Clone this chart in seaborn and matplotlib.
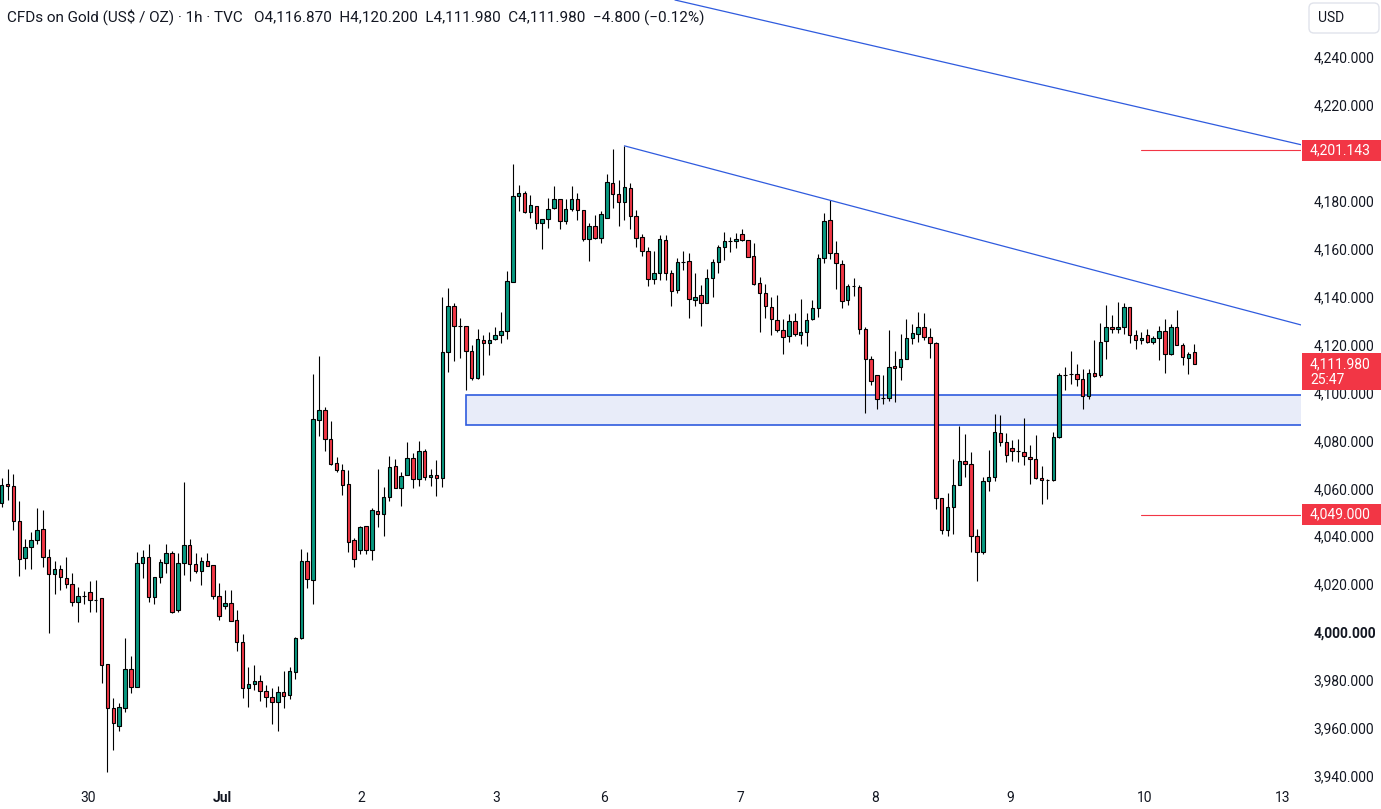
import numpy as np
import pandas as pd
import matplotlib.pyplot as plt
import matplotlib.transforms as mtransforms
from matplotlib.patches import Rectangle, FancyBboxPatch
import seaborn as sns

# hourly OHLC, XAUUSD (TVC), 30 Jun -> 10 Jul
opens = [4053.9, 4061.8, 4061.0, 4046.4, 4030.9, 4035.5, 4038.4, 4043.0, 4031.4, 4024.3,
         4026.3, 4022.6, 4020.1, 4012.6, 4015.1, 4016.7, 4013.4, 4014.2, 3986.7, 3968.3,
         3960.8, 3968.3, 3984.6, 3977.1, 4028.8, 4031.4, 4014.7, 4023.0, 4028.8, 4033.0,
         4009.2, 4028.8, 4036.4, 4028.4, 4025.5, 4029.7, 4028.0, 4015.1, 4010.9, 4012.1,
         4005.0, 3995.9, 3976.7, 3978.3, 3979.6, 3975.4, 3972.9, 3970.8, 3975.0, 3973.7,
         3983.3, 3997.5, 4029.7, 4021.7, 4088.5, 4092.7, 4080.6, 4070.6, 4067.7, 4061.8,
         4038.4, 4034.3, 4044.3, 4034.3, 4050.6, 4049.3, 4056.4, 4069.3, 4060.2, 4065.6,
         4072.7, 4063.9, 4075.6, 4064.7, 4065.6, 4064.3, 4116.9, 4136.1, 4127.8, 4127.8,
         4117.4, 4106.1, 4121.9, 4120.7, 4122.4, 4124.0, 4125.7, 4146.2, 4182.1, 4183.3,
         4175.4, 4177.9, 4170.8, 4172.5, 4177.1, 4180.8, 4171.6, 4176.6, 4180.8, 4176.2,
         4164.1, 4169.5, 4164.5, 4172.9, 4187.5, 4182.9, 4179.6, 4185.4, 4173.7, 4165.0,
         4159.1, 4147.4, 4149.9, 4163.7, 4149.9, 4142.8, 4154.5, 4154.9, 4138.6, 4140.7,
         4137.4, 4147.8, 4154.5, 4160.8, 4163.3, 4163.3, 4166.2, 4163.7, 4157.0, 4145.7,
         4141.6, 4135.7, 4130.3, 4126.1, 4123.6, 4129.9, 4124.0, 4125.3, 4130.7, 4135.3,
         4156.2, 4172.0, 4158.3, 4153.7, 4138.6, 4144.5, 4144.1, 4126.5, 4114.0, 4107.3,
         4097.7, 4097.7, 4111.1, 4110.7, 4114.0, 4122.8, 4124.5, 4127.4, 4123.2, 4120.7,
         4056.0, 4042.6, 4052.2, 4061.4, 4071.4, 4070.2, 4040.1, 4033.4, 4063.1, 4064.7,
         4083.1, 4079.4, 4076.9, 4075.6, 4075.2, 4073.1, 4072.3, 4064.3, 4063.5, 4063.5,
         4081.5, 4107.3, 4107.8, 4107.8, 4105.7, 4098.6, 4108.2, 4107.3, 4121.5, 4127.4,
         4126.5, 4127.4, 4135.7, 4124.0, 4121.9, 4124.0, 4121.1, 4122.8, 4125.7, 4116.1,
         4127.4, 4119.9, 4114.4, 4116.87]
highs = [4064.3, 4068.1, 4066.0, 4054.7, 4038.9, 4041.8, 4051.8, 4051.0, 4034.7, 4029.7,
         4028.0, 4031.4, 4024.7, 4018.8, 4017.2, 4021.3, 4021.7, 4014.2, 3986.7, 3972.5,
         3970.4, 3997.5, 3990.0, 4033.4, 4034.3, 4036.8, 4023.0, 4030.5, 4036.8, 4033.9,
         4033.0, 4062.7, 4038.9, 4033.0, 4031.4, 4033.0, 4028.0, 4020.5, 4017.6, 4017.6,
         4009.2, 3999.2, 3985.4, 3986.3, 3982.1, 3977.9, 3976.7, 3977.5, 3983.8, 3985.4,
         3998.0, 4034.7, 4033.4, 4107.8, 4115.3, 4094.0, 4088.1, 4073.1, 4070.2, 4067.7,
         4039.3, 4044.3, 4044.3, 4051.8, 4068.1, 4060.6, 4073.5, 4072.3, 4066.8, 4079.4,
         4074.8, 4079.8, 4076.4, 4068.1, 4071.8, 4139.9, 4143.7, 4137.4, 4131.1, 4127.8,
         4119.9, 4126.5, 4124.0, 4125.3, 4127.4, 4133.6, 4150.8, 4195.4, 4186.7, 4184.2,
         4182.5, 4177.9, 4172.5, 4181.2, 4186.2, 4180.8, 4180.8, 4186.2, 4183.3, 4176.2,
         4170.8, 4174.1, 4175.8, 4191.3, 4201.7, 4188.7, 4203.0, 4187.5, 4176.2, 4166.2,
         4160.8, 4159.1, 4165.8, 4165.8, 4151.2, 4156.2, 4159.1, 4158.3, 4149.9, 4144.9,
         4151.6, 4155.8, 4161.6, 4167.0, 4165.0, 4166.6, 4168.3, 4163.7, 4162.4, 4148.3,
         4145.3, 4139.9, 4140.7, 4130.7, 4132.8, 4133.2, 4139.1, 4133.2, 4138.6, 4157.9,
         4175.0, 4180.4, 4163.3, 4155.3, 4145.3, 4147.8, 4144.9, 4127.4, 4115.3, 4107.3,
         4107.3, 4126.1, 4117.4, 4124.5, 4130.7, 4128.6, 4133.6, 4133.2, 4127.0, 4121.1,
         4056.0, 4058.1, 4072.3, 4086.0, 4082.7, 4075.2, 4043.0, 4064.7, 4076.0, 4091.1,
         4090.6, 4083.1, 4080.2, 4080.6, 4089.4, 4078.1, 4082.3, 4069.3, 4063.9, 4083.5,
         4108.2, 4110.7, 4117.4, 4111.9, 4109.8, 4109.8, 4121.9, 4129.0, 4136.6, 4132.4,
         4137.8, 4137.4, 4135.7, 4126.1, 4125.3, 4126.5, 4123.6, 4127.8, 4130.7, 4128.6,
         4134.5, 4120.7, 4116.9, 4120.2]
lows = [4052.2, 4055.2, 4042.6, 4023.4, 4026.3, 4026.3, 4036.8, 4027.2, 3999.6, 4015.9,
        4017.6, 4018.4, 4010.9, 4004.2, 4011.7, 4008.4, 4008.4, 3978.7, 3941.6, 3950.8,
        3958.7, 3966.6, 3974.6, 3977.1, 4022.6, 4012.6, 4011.7, 4020.5, 4024.7, 4008.0,
        4008.4, 4023.8, 4021.3, 4024.7, 4019.7, 4027.6, 4013.8, 4005.0, 4009.6, 4004.6,
        3992.1, 3972.5, 3968.7, 3975.8, 3971.2, 3968.7, 3961.6, 3958.7, 3968.3, 3972.1,
        3980.4, 3997.1, 4018.4, 4011.7, 4081.9, 4075.6, 4069.8, 4066.8, 4057.2, 4033.4,
        4027.2, 4032.6, 4032.6, 4030.1, 4043.9, 4040.1, 4054.7, 4060.2, 4052.6, 4065.6,
        4060.2, 4061.0, 4063.5, 4061.0, 4056.8, 4060.6, 4108.6, 4113.2, 4114.4, 4101.1,
        4105.2, 4105.7, 4107.3, 4115.7, 4121.9, 4120.7, 4122.4, 4146.2, 4175.8, 4175.0,
        4172.9, 4168.3, 4159.9, 4168.7, 4176.6, 4168.3, 4170.4, 4175.8, 4172.0, 4163.3,
        4154.9, 4164.1, 4162.4, 4172.9, 4177.1, 4169.5, 4172.0, 4168.3, 4160.8, 4157.0,
        4144.5, 4145.3, 4147.0, 4147.0, 4136.1, 4141.6, 4151.2, 4131.1, 4136.1, 4127.8,
        4137.4, 4139.9, 4149.9, 4155.3, 4158.7, 4160.4, 4163.3, 4156.6, 4144.9, 4125.3,
        4131.1, 4124.0, 4125.3, 4116.1, 4121.1, 4123.6, 4120.3, 4119.4, 4130.3, 4131.6,
        4154.1, 4155.8, 4143.2, 4135.3, 4136.6, 4140.3, 4124.5, 4091.5, 4103.2, 4093.1,
        4095.2, 4096.5, 4096.1, 4105.2, 4114.0, 4120.3, 4121.1, 4121.9, 4114.4, 4051.4,
        4040.9, 4040.1, 4040.9, 4061.4, 4064.7, 4033.4, 4021.3, 4032.6, 4058.9, 4063.1,
        4077.7, 4071.0, 4071.4, 4071.0, 4069.8, 4061.8, 4063.9, 4053.5, 4055.6, 4063.1,
        4081.0, 4101.1, 4103.6, 4102.7, 4093.1, 4097.3, 4106.5, 4106.5, 4114.0, 4124.9,
        4124.9, 4124.5, 4120.7, 4118.2, 4120.3, 4120.7, 4120.3, 4113.6, 4108.2, 4115.7,
        4119.9, 4111.5, 4107.8, 4111.98]
closes = [4061.4, 4061.0, 4046.4, 4030.5, 4035.5, 4038.4, 4042.6, 4031.4, 4024.3, 4026.3,
          4023.0, 4020.1, 4012.6, 4015.1, 4015.1, 4013.4, 4013.4, 3986.3, 3968.3, 3962.0,
          3968.7, 3984.6, 3977.1, 4028.8, 4031.4, 4014.7, 4023.0, 4029.3, 4033.0, 4008.4,
          4028.8, 4036.4, 4028.4, 4025.5, 4029.7, 4027.6, 4015.1, 4006.7, 4012.1, 4004.6,
          3995.9, 3976.7, 3978.3, 3979.6, 3975.4, 3972.9, 3970.8, 3975.0, 3973.3, 3983.8,
          3997.5, 4029.7, 4022.2, 4089.0, 4092.7, 4080.6, 4070.2, 4067.7, 4061.4, 4037.6,
          4030.5, 4043.9, 4034.3, 4051.0, 4049.3, 4056.4, 4068.9, 4060.2, 4065.2, 4072.7,
          4063.9, 4075.6, 4064.7, 4065.6, 4064.3, 4116.9, 4136.1, 4127.8, 4127.8, 4117.4,
          4106.1, 4122.4, 4120.7, 4121.9, 4124.0, 4125.7, 4146.6, 4182.1, 4183.3, 4175.4,
          4178.3, 4170.8, 4172.5, 4176.6, 4180.8, 4171.6, 4176.6, 4180.8, 4176.2, 4164.1,
          4169.5, 4164.5, 4174.6, 4187.9, 4182.9, 4179.6, 4185.8, 4173.7, 4164.5, 4159.1,
          4147.4, 4149.9, 4164.1, 4149.9, 4142.4, 4154.5, 4154.5, 4139.1, 4139.9, 4137.4,
          4147.8, 4154.5, 4160.8, 4163.3, 4163.3, 4164.1, 4163.7, 4156.6, 4145.3, 4141.6,
          4136.1, 4130.7, 4126.1, 4123.2, 4129.9, 4124.5, 4125.3, 4130.3, 4135.3, 4156.2,
          4171.6, 4158.3, 4154.1, 4138.2, 4144.5, 4144.5, 4126.5, 4114.0, 4104.8, 4097.3,
          4097.7, 4110.7, 4110.3, 4114.0, 4122.8, 4124.9, 4127.4, 4123.2, 4120.7, 4056.0,
          4042.6, 4052.2, 4061.4, 4071.4, 4070.2, 4040.1, 4033.4, 4063.1, 4064.7, 4083.5,
          4079.4, 4073.9, 4075.6, 4075.6, 4073.5, 4072.3, 4064.3, 4063.5, 4063.5, 4081.5,
          4107.3, 4107.3, 4107.8, 4105.7, 4098.6, 4108.2, 4106.9, 4121.1, 4127.4, 4126.5,
          4127.4, 4135.7, 4124.0, 4121.9, 4122.8, 4121.1, 4122.8, 4125.7, 4116.1, 4127.4,
          4119.9, 4114.8, 4116.1, 4111.98]

day_pos = [14.7, 37.5, 61.2, 84.1, 102.5, 125.7, 148.7, 171.6, 194.6, 218.1]
day_labels = ['30', 'Jul', '2', '3', '6', '7', '8', '9', '10', '13']
price_ticks = list(range(3940, 4241, 20))
hidden_ticks = [4200]  # covered by the 4,201.143 tag on the scale

# drawings
zone_start = 79.1
zone_low, zone_high = 4086.3, 4098.9
upper_trend_x = [114.6, 221.3]
upper_trend_y = [4263.9, 4203.4]
lower_trend_x = [106.0, 221.2]
lower_trend_y = [4203.0, 4128.2]
level_start = 193.9
level_high = 4201.143
level_low = 4049.0
last_price = 4111.98
countdown = '25:47'
header = ('CFDs on Gold (US$ / OZ) \u00b7 1h \u00b7 TVC   O4,116.870  H4,120.200  '
          'L4,111.980  C4,111.980  \u22124.800 (\u22120.12%)')

GREEN = '#089981'
RED = '#f23645'
BLUE = '#2f5bde'
TXT = '#131722'

sns.set_style('white')
plt.rcParams['font.family'] = ['Roboto', 'DejaVu Sans']

df = pd.DataFrame({'open': opens, 'high': highs, 'low': lows, 'close': closes})
df['bar'] = np.arange(len(df))
df['color'] = np.where(df['close'] >= df['open'], GREEN, RED)

W, H = 1381, 809
fig = plt.figure(figsize=(W / 100, H / 100), dpi=100)
fig.patch.set_facecolor('white')
ax = fig.add_axes([0, 28 / H, 1301 / W, 781 / H])
ax.set_facecolor('white')

y_lo, y_hi = 3937.8, 4263.9
ax.set_xlim(-0.29, 221.16)
ax.set_ylim(y_lo, y_hi)
per_px = (y_hi - y_lo) / 781

# zone
ax.add_patch(Rectangle((zone_start, zone_low), 300, zone_high - zone_low,
                       facecolor='#e8ecf9', edgecolor=BLUE, lw=1.2, zorder=1))

# candles
ax.vlines(df['bar'], df['low'], df['high'], color='black', lw=0.8, zorder=2)
ax.bar(df['bar'], (df['close'] - df['open']).abs(), bottom=df[['open', 'close']].min(axis=1),
       width=0.6, color=df['color'], edgecolor='black', linewidth=0.8, zorder=3)

# trend lines and levels
ax.plot(upper_trend_x, upper_trend_y, color=BLUE, lw=0.9, zorder=4)
ax.plot(lower_trend_x, lower_trend_y, color=BLUE, lw=0.9, zorder=4)
for lvl in (level_high, level_low):
    ax.plot([level_start, 230], [lvl, lvl], color=RED, lw=0.8, zorder=4)

# axes styling
for s in ax.spines.values():
    s.set_visible(False)
ax.grid(False)
ax.yaxis.tick_right()
ax.set_yticks(price_ticks)
ax.set_yticklabels(['' if v in hidden_ticks else f'{v:,.3f}' for v in price_ticks])
ax.tick_params(axis='y', length=0, pad=9, labelsize=10, labelcolor=TXT)
for lab, v in zip(ax.get_yticklabels(), price_ticks):
    if v == 4000:
        lab.set_fontweight('bold')
ax.set_xticks(day_pos)
ax.set_xticklabels(day_labels)
ax.tick_params(axis='x', length=0, pad=7, labelsize=10, labelcolor=TXT)
ax.get_xticklabels()[1].set_fontweight('bold')

# price tags on the scale
trans = mtransforms.blended_transform_factory(fig.transFigure, ax.transData)
x0 = 1302 / W


def tag(price, top_px, bottom_px):
    r = Rectangle((x0, price - bottom_px * per_px), 1 - x0, (top_px + bottom_px) * per_px,
                  transform=trans, facecolor=RED, edgecolor='none', zorder=5)
    fig.add_artist(r)


tag(level_high, 10.5, 10.5)
fig.text(1310 / W, level_high, '4,201.143', transform=trans, color='white',
         fontsize=10, va='center', zorder=6)
tag(level_low, 10.5, 10.5)
fig.text(1310 / W, level_low, '4,049.000', transform=trans, color='white',
         fontsize=10, va='center', zorder=6)
tag(last_price, 11, 26)
fig.text(1310 / W, last_price, f'{last_price:,.3f}', transform=trans, color='white',
         fontsize=10, va='center', zorder=6)
fig.text(1310 / W, last_price - 16 * per_px, countdown, transform=trans, color='white',
         fontsize=10, va='center', zorder=6)

# currency box
fig.add_artist(FancyBboxPatch((1309, H - 33), 70, 30, boxstyle='round,pad=0,rounding_size=5',
                              transform=mtransforms.IdentityTransform(),
                              facecolor='white', edgecolor='#e0e3eb', lw=1, zorder=5))
fig.text(1318 / W, 1 - 18 / H, 'USD', color=TXT, fontsize=10, va='center', zorder=6)

# header
fig.text(7 / W, 1 - 17 / H, header, color=TXT, fontsize=11, va='center')

fig.savefig('out.png', dpi=100)
